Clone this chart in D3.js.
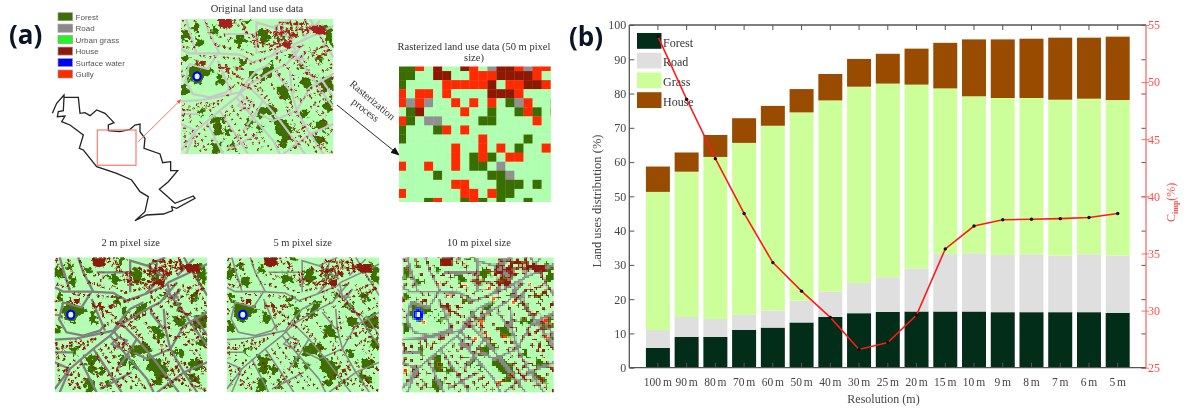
<!DOCTYPE html>
<html lang="en">
<head>
<meta charset="UTF-8">
<title>Land use rasterization</title>
<script src="https://d3js.org/d3.v7.min.js"></script>
<style>
    html, body { margin: 0; background: #fff; }
    svg { display: block; filter: blur(0.35px); }
    .serif { font-family: "Liberation Serif", serif; }
    .axis text { font-family: "Liberation Serif", serif; font-size: 12px; }
</style>
</head>
<body>
<svg width="1188" height="410"></svg>
<script>
// ---- chart (b) values
const resolutions = ["100 m","90 m","80 m","70 m","60 m","50 m","40 m","30 m","25 m","20 m","15 m","10 m","9 m","8 m","7 m","6 m","5 m"];
const forestShare = [5.8,9,9,11,11.7,13.2,14.8,15.9,16.3,16.4,16.4,16.4,16.2,16.2,16.2,16.2,16];
const roadShare = [5.2,5.8,5.2,4.4,5,6.4,7.4,8.8,10.1,12.6,16.8,17,16.7,16.9,16.5,16.9,16.7];
const grassShare = [40.3,42.4,47.3,50.2,53.9,54.9,55.8,57.3,56.5,53.6,48.3,45.8,45.8,45.6,45.5,45.4,45.4];
const houseShare = [7.4,5.6,6.4,7.2,5.8,6.8,7.7,8.1,8.7,10.5,13.3,16.6,17.1,17.3,18.1,17.8,18.5];
const cimp = [54,48.5,43.3,38.5,34.2,31.7,29.4,26.6,27.2,29.6,35.4,37.4,37.95,38,38.05,38.15,38.5];
const leftTicks = [0,10,20,30,40,50,60,70,80,90,100];
const rightTicks = [25,30,35,40,45,50,55];
const stackKeys = ["Forest","Road","Grass","House"];
const stackColors = ["#022d18","#dfdfdf","#ccff99","#994c00"];

// ---- panel (a) legend
const landNames = ["Forest","Road","Urban grass","House","Surface water","Gully"];
const landColors = ["#3d7004","#8a8a8a","#22f522","#8b1a0a","#0000ff","#ff2a00"];

// ---- 50 m raster, read cell by cell (G forest, R road, r gully, H house, . grass)
const rasterRows = [
    "GGr.H..Hr.RHHrRrr.",
    "GG..HH..rrrHHHHr..",
    "G....rrrrrH.rrHHr.",
    "r.rr.r....HHHr....",
    "rRrR..r.r.r.GRr..R",
    ".GH....r..G..GrG.r",
    "rG.RR....GG....r..",
    "G...Gr.r..........",
    "G........r....G...",
    "......r..r.r.G..r.",
    "......r.GrG.rr....",
    "r..r..r.GG.R......",
    "....G.....GGR.....",
    "......rr...GGG.G..",
    "r......rr.rGG.....",
    "...Gr..GrG.G..G..."
];
const rasterColors = { G: "#3a6e00", R: "#919191", r: "#ff2a00", H: "#8f1900", ".": "#b0ffb0" };

// ---- land use map, traced in a 15..470 x 15..420 map space
const mapForest = [
    [[15,45],[40,50],[45,65],[25,85],[15,75]], [[50,30],[70,35],[60,55],[48,45]], [[108,35],[125,45],[130,60],[110,65]],
    [[35,155],[60,150],[95,165],[115,175],[85,190],[70,210],[45,205],[35,175]], [[15,210],[40,215],[35,240],[18,245]],
    [[125,175],[145,195],[140,215],[115,205]], [[195,135],[215,135],[205,160],[190,150]], [[170,70],[195,60],[215,85],[190,95]],
    [[240,50],[270,45],[280,75],[255,100]], [[300,50],[330,60],[325,85],[305,80]], [[260,160],[295,145],[285,180],[255,205]],
    [[215,165],[240,175],[230,200],[215,190]], [[325,130],[355,115],[350,140]], [[360,150],[395,155],[385,175]],
    [[410,130],[440,120],[435,150]], [[445,30],[468,45],[468,100],[445,85]], [[300,220],[330,215],[345,260],[310,255]],
    [[370,190],[410,200],[400,225],[370,215]], [[420,200],[465,180],[468,225],[440,240]], [[370,290],[395,290],[395,315],[375,310]],
    [[240,285],[285,270],[310,290],[265,310],[240,310]], [[285,310],[330,320],[355,355],[325,375],[295,350]], [[240,330],[265,335],[250,360]],
    [[105,310],[140,305],[135,360],[115,365]], [[140,340],[165,345],[165,370],[145,360]], [[100,385],[135,380],[135,420],[110,418]],
    [[165,385],[180,385],[175,410],[160,405]], [[210,310],[235,315],[225,345],[210,340]], [[300,385],[345,360],[335,395],[310,400]],
    [[410,320],[450,320],[455,350],[420,350]], [[405,360],[440,370],[450,395],[415,385]], [[350,380],[375,390],[360,405]],
    [[200,15],[230,15],[210,35]], [[60,70],[85,80],[75,100],[55,95]], [[15,130],[35,120],[40,140],[20,145]],
    [[440,260],[468,250],[468,290],[445,290]], [[60,290],[85,285],[75,310]]
];
const mapRoads = [
    [[15,105],[40,118],[120,118],[190,122],[230,145],[285,125],[345,100],[355,90],[440,50],[470,35]],
    [[125,118],[95,165],[40,150],[28,200],[50,240],[100,250],[150,235],[165,215]],
    [[15,262],[80,258],[120,250],[190,235],[210,205],[240,170],[280,150]],
    [[15,410],[60,350],[130,290],[180,250],[215,215],[280,175],[330,150],[380,90]],
    [[210,210],[260,260],[310,320],[370,400],[385,420]],
    [[180,250],[230,310],[290,380],[310,420]],
    [[130,290],[170,350],[215,420]],
    [[90,320],[120,380],[140,420]],
    [[340,170],[345,230],[360,290],[400,360],[440,420]],
    [[345,110],[400,180],[440,240],[470,280]],
    [[370,140],[390,110],[375,125],[360,135],[385,135]],
    [[85,15],[100,60],[130,118]],
    [[30,15],[40,50],[60,115]],
    [[240,120],[240,60],[240,25],[290,40],[350,80]],
    [[290,40],[345,15]],
    [[125,140],[150,200],[165,235]],
    [[470,180],[400,220],[360,290],[290,320],[250,300]],
    [[15,330],[60,350]],
    [[60,350],[30,420]],
    [[190,235],[205,255],[185,275],[215,290],[230,265],[205,255]],
    [[285,125],[310,100],[320,30]],
    [[400,15],[420,50],[470,130]],
    [[260,260],[230,310],[200,350]],
    [[400,360],[470,330]],
    [[300,180],[340,230]],
    [[140,60],[190,60],[235,60]],
    [[15,300],[70,300]],
    [[150,410],[245,360]],
    [[320,420],[400,360]],
    [[430,190],[470,250]],
    [[360,135],[352,95]],
    [[380,70],[430,20]]
];
const mapBuildings = [
    [[125,15],[165,15],[168,40],[145,45],[130,40]],
    [[72,140],[90,140],[88,155],[72,155]],
    [[400,35],[445,35],[450,62],[410,60]],
    [[345,55],[365,60],[360,72],[345,70]],
    [[318,85],[345,80],[340,105],[322,100]]
];
const mapBlocks = [
    [[130,150],[130,170]], [[130,160],[165,165]], [[150,150],[150,175]], [[165,175],[195,195]], [[175,160],[200,165]],
    [[300,35],[300,75]], [[315,35],[315,70]], [[330,40],[345,75]], [[290,55],[340,55]], [[350,30],[395,30]],
    [[360,20],[360,70]], [[375,25],[380,65]], [[395,40],[430,60]], [[290,85],[340,100]], [[320,90],[340,70]],
    [[240,55],[245,100]], [[300,100],[335,85]], [[360,100],[380,95]], [[410,110],[445,95]], [[230,60],[235,100]],
    [[420,135],[460,105]], [[195,25],[205,45]], [[385,175],[420,190]], [[155,165],[160,195]], [[265,45],[285,60]],
    [[60,135],[65,155]], [[195,210],[225,225]], [[250,85],[290,95]],
    [[290,70],[345,40]], [[305,25],[345,30]], [[385,15],[395,60]], [[365,45],[400,50]], [[340,20],[350,60]], [[280,100],[320,75]]
];
const mapHouseRows = [
    [[20,20],[35,60]], [[55,20],[75,85]], [[90,25],[110,85]], [[175,25],[210,55]], [[165,70],[140,100]], [[40,70],[60,110]],
    [[20,95],[50,105]], [[115,90],[180,110]], [[205,40],[230,100]], [[185,100],[235,125]], [[130,70],[160,60]], [[70,125],[120,130]],
    [[15,150],[30,130]], [[18,170],[22,200]], [[140,130],[200,135]], [[220,150],[280,130]], [[250,115],[300,105]], [[300,120],[340,105]],
    [[20,270],[30,400]], [[40,275],[45,340]], [[60,272],[100,262]], [[20,290],[110,270]], [[40,360],[85,310]], [[60,370],[110,320]],
    [[55,400],[100,355]], [[70,410],[120,370]], [[150,290],[190,350]], [[165,275],[215,345]], [[140,310],[190,390]], [[125,330],[160,410]],
    [[185,360],[220,415]], [[200,350],[245,410]], [[230,360],[270,415]], [[255,370],[290,415]], [[195,260],[240,310]], [[210,250],[255,300]],
    [[190,290],[225,270]], [[340,265],[385,345]], [[330,290],[370,360]], [[375,340],[420,415]], [[400,330],[450,410]], [[420,290],[468,355]],
    [[395,240],[450,310]], [[420,230],[468,290]], [[350,180],[360,260]], [[300,170],[350,235]], [[285,210],[340,290]], [[250,220],[300,290]],
    [[235,215],[280,270]], [[440,110],[468,160]], [[400,110],[440,175]], [[375,200],[468,160]], [[390,230],[468,195]], [[370,260],[468,215]],
    [[400,280],[468,240]], [[430,385],[468,350]], [[300,400],[350,360]], [[340,410],[390,370]], [[180,170],[215,130]], [[215,210],[260,180]],
    [[240,210],[285,185]], [[360,165],[420,110]], [[350,150],[400,100]], [[300,130],[345,175]], [[100,290],[160,240]], [[85,285],[135,255]],
    [[160,225],[205,190]], [[60,400],[50,350]], [[90,410],[75,380]], [[170,395],[190,420]], [[340,330],[400,400]], [[420,395],[468,415]],
    [[430,70],[468,120]], [[340,120],[395,170]], [[160,20],[195,15]], [[345,380],[395,330]]
];
const mapGullies = [[200,95],[272,103],[285,135],[345,145],[395,90],[250,205],[230,255],[262,240],[150,125],[120,90],[320,250],[445,250],[440,200],[20,350],[300,385],[75,205]];
const waterRing = [63,187];

// ---- study area outline and the small panels' places
const outline = [[72,52],[115,52],[120,100],[135,98],[150,107],[170,90],[195,100],[222,128],[205,135],[205,152],[240,155],[270,148],[285,135],[300,132],[300,155],[315,175],[312,205],[360,222],[368,248],[392,245],[392,272],[413,272],[385,305],[358,328],[405,370],[460,348],[465,355],[410,385],[395,380],[398,392],[370,402],[320,405],[285,422],[315,395],[325,350],[300,335],[275,300],[230,280],[170,260],[130,210],[118,205],[130,165],[90,135],[65,125],[75,108],[52,110],[55,95],[70,92],[72,52],[72,45],[50,70],[37,100]];
const mapPanels = [
    { x: [181,333.5], y: [19,154], road: "#c8c8c8", roadW: 2.2, house: "#a3201a", houseW: 1.8, dash: "2 2 2 4 2 3 2 6 2 2", water: 2.2, forest: "#3d7004" },
    { x: [54.7,207.3], y: [257.3,392.3], road: "#808080", roadW: 2.3, house: "#8b1a0a", houseW: 2.1, dash: "3 2 2 3 2 2 3 5", water: 2.2, forest: "#3d7004" },
    { x: [226.7,379.3], y: [257.3,392.3], road: "#8a8a8a", roadW: 1.6, house: "#8b1a0a", houseW: 1.8, dash: "2 2 2 4 2 3 2 6 2 2", water: 2.2, forest: "#3d7004" },
    { x: [402.3,553.7], y: [257.3,392.3], road: "#8a8a8a", roadW: 3.2, house: "#8b1a0a", houseW: 3.4, dash: "4 3 3 5", water: 3.4, forest: "#3d7004", coarse: true }
];

const svg = d3.select("svg");
const defs = svg.append("defs");

// rough edges for the traced map shapes
const makeRough = (id, freq, scale) => {
    const f = defs.append("filter").attr("id", id).attr("x", "-10%").attr("y", "-10%").attr("width", "120%").attr("height", "120%");
    f.append("feTurbulence").attr("type", "fractalNoise").attr("baseFrequency", freq).attr("numOctaves", 2).attr("seed", 4).attr("result", "n");
    f.append("feDisplacementMap").attr("in", "SourceGraphic").attr("in2", "n").attr("scale", scale)
        .attr("xChannelSelector", "R").attr("yChannelSelector", "G");
};
makeRough("roughForest", 0.22, 11);
makeRough("roughHouse", 0.45, 4);

// panel letters
svg.selectAll(".letter").data([["(a)",9,44],["(b)",569,46]]).enter().append("text")
    .attr("class", "letter").attr("x", d => d[1]).attr("y", d => d[2])
    .attr("font-family", "Open Sans").attr("font-weight", 700).attr("font-size", 26).attr("fill", "#0a1424")
    .text(d => d[0]);

// ---- panel (a): legend
const landY = d3.scalePoint().domain(landNames).range([16.7, 74]);
const landLegend = svg.append("g");
landLegend.selectAll("rect").data(landNames).enter().append("rect")
    .attr("x", 58).attr("y", d => landY(d) - 4).attr("width", 14.5).attr("height", 8)
    .attr("fill", (d, i) => landColors[i]).attr("stroke", "#999").attr("stroke-width", 0.7);
landLegend.selectAll("text").data(landNames).enter().append("text")
    .attr("x", 75.6).attr("y", d => landY(d) + 3)
    .attr("font-family", "Liberation Sans").attr("font-size", 8).attr("fill", "#555")
    .text(d => d);

// ---- panel (a): outline, box and arrows
const outlineX = d3.scaleLinear().domain([0, 480]).range([40, 200]);
const outlineY = d3.scaleLinear().domain([0, 450]).range([80, 230]);
svg.append("path")
    .attr("d", d3.line().x(d => outlineX(d[0])).y(d => outlineY(d[1]))(outline))
    .attr("fill", "none").attr("stroke", "#222").attr("stroke-width", 1.3);
svg.append("rect").attr("x", 97.3).attr("y", 130).attr("width", 38.7).attr("height", 35.3)
    .attr("fill", "none").attr("stroke", "#ff7a70").attr("stroke-width", 1.2);

[["headRed","#ff4a40",5],["headBlack","#111",9]].forEach(([id, color, size]) => {
    defs.append("marker").attr("id", id).attr("viewBox", "0 0 10 10").attr("refX", 9).attr("refY", 5)
        .attr("markerUnits", "userSpaceOnUse").attr("markerWidth", size).attr("markerHeight", size).attr("orient", "auto")
        .append("path").attr("d", "M0,1L10,5L0,9Z").attr("fill", color);
});
svg.append("line").attr("x1", 138.3).attr("y1", 141.7).attr("x2", 181).attr("y2", 99.5)
    .attr("stroke", "#ff4a40").attr("stroke-width", 0.8).attr("marker-end", "url(#headRed)");
svg.append("line").attr("x1", 337).attr("y1", 105).attr("x2", 399).attr("y2", 155)
    .attr("stroke", "#111").attr("stroke-width", 0.9).attr("marker-end", "url(#headBlack)");

const titles = [
    ["Original land use data",257,12],
    ["Rasterized land use data (50 m pixel",474,50],
    ["size)",474,61],
    ["2 m pixel size",130.7,246],
    ["5 m pixel size",302.7,246],
    ["10 m pixel size",479,246]
];
svg.selectAll(".title").data(titles).enter().append("text")
    .attr("class", "title serif").attr("x", d => d[1]).attr("y", d => d[2]).attr("text-anchor", "middle")
    .attr("font-size", 10.5).attr("fill", "#333").text(d => d[0]);
svg.append("text").attr("class", "serif").attr("transform", "translate(349,85) rotate(40)")
    .attr("font-size", 10.5).attr("fill", "#333").text("Rasterization");
svg.append("text").attr("class", "serif").attr("transform", "translate(351,103) rotate(38)")
    .attr("font-size", 10.5).attr("fill", "#333").text("process");

// ---- panel (a): the land use maps
mapPanels.forEach((p, i) => {
    const mx = d3.scaleLinear().domain([15, 470]).range(p.x);
    const my = d3.scaleLinear().domain([15, 420]).range(p.y);
    defs.append("clipPath").attr("id", "map" + i).append("rect")
        .attr("x", p.x[0]).attr("y", p.y[0]).attr("width", p.x[1] - p.x[0]).attr("height", p.y[1] - p.y[0]);
    const g = svg.append("g").attr("clip-path", `url(#map${i})`).append("g");

    // 10 m panel gets blocky cells through a sample-and-dilate filter
    if (p.coarse) {
        const w = p.x[1] - p.x[0], h = p.y[1] - p.y[0];
        const f = defs.append("filter").attr("id", "pixelate").attr("filterUnits", "userSpaceOnUse")
            .attr("primitiveUnits", "userSpaceOnUse")
            .attr("x", p.x[0]).attr("y", p.y[0]).attr("width", w).attr("height", h)
            .attr("color-interpolation-filters", "sRGB");
        f.append("feFlood").attr("x", p.x[0] + 1).attr("y", p.y[0] + 1).attr("width", 1).attr("height", 1);
        f.append("feComposite").attr("x", p.x[0] + 1).attr("y", p.y[0] + 1).attr("width", 3).attr("height", 3);
        f.append("feTile").attr("result", "dots");
        f.append("feComposite").attr("in", "SourceGraphic").attr("in2", "dots").attr("operator", "in");
        f.append("feMorphology").attr("operator", "dilate").attr("radius", 1);
        g.attr("filter", "url(#pixelate)");
    }

    const line = d3.line().x(d => mx(d[0])).y(d => my(d[1]));

    g.append("rect").attr("x", p.x[0]).attr("y", p.y[0]).attr("width", p.x[1] - p.x[0]).attr("height", p.y[1] - p.y[0]).attr("fill", "#b4ffb4");
    g.append("g").attr("filter", "url(#roughForest)")
        .selectAll("path").data(mapForest).enter().append("path").attr("d", d => line(d) + "Z").attr("fill", p.forest);
    g.append("g").selectAll("path").data(mapRoads).enter().append("path").attr("d", line)
        .attr("fill", "none").attr("stroke", p.road).attr("stroke-width", p.roadW);
    const houses = g.append("g").attr("filter", "url(#roughHouse)");
    houses.selectAll(".row").data(mapHouseRows).enter().append("path").attr("class", "row").attr("d", line)
        .attr("fill", "none").attr("stroke", p.house).attr("stroke-width", p.houseW).attr("stroke-dasharray", p.dash);
    houses.selectAll(".block").data(mapBlocks).enter().append("path").attr("class", "block").attr("d", line)
        .attr("fill", "none").attr("stroke", p.house).attr("stroke-width", p.houseW).attr("stroke-dasharray", "5 1");
    houses.selectAll(".building").data(mapBuildings).enter().append("path").attr("class", "building")
        .attr("d", d => line(d) + "Z").attr("fill", p.house);
    if (p.coarse) {
        g.selectAll(".gully").data(mapGullies).enter().append("rect").attr("class", "gully")
            .attr("x", d => mx(d[0])).attr("y", d => my(d[1])).attr("width", 3).attr("height", 3).attr("fill", "#ff2a00");
    }
    g.append("ellipse").attr("cx", mx(waterRing[0])).attr("cy", my(waterRing[1])).attr("rx", 3.6).attr("ry", 4)
        .attr("fill", "#d8ffd8").attr("stroke", "#0000ff").attr("stroke-width", p.water);
});

// ---- panel (a): 50 m raster
const rasterX = d3.scaleBand().domain(d3.range(18)).range([397, 559.7]);
const rasterY = d3.scaleBand().domain(d3.range(16)).range([62, 207]);
defs.append("clipPath").attr("id", "rasterClip").append("rect").attr("x", 399).attr("y", 66.5).attr("width", 152).attr("height", 135.5);
const raster = svg.append("g").attr("clip-path", "url(#rasterClip)");
rasterRows.forEach((row, r) => {
    raster.selectAll(".r" + r).data(row.split("")).enter().append("rect")
        .attr("class", "r" + r)
        .attr("x", (d, c) => rasterX(c)).attr("y", rasterY(r))
        .attr("width", rasterX.bandwidth() + 0.3).attr("height", rasterY.bandwidth() + 0.3)
        .attr("fill", d => rasterColors[d]);
});

// ---- panel (b)
const x = d3.scaleBand().domain(resolutions).range([643.6, 1132]).paddingInner(0.165).paddingOuter(0.08);
const y = d3.scaleLinear().domain([0, 100]).range([367.7, 25]);
const yRight = d3.scaleLinear().domain([25, 55]).range([367.7, 25]);
const frameL = 629.3, frameR = 1146;

const table = resolutions.map((r, i) => ({ resolution: r, Forest: forestShare[i], Road: roadShare[i], Grass: grassShare[i], House: houseShare[i] }));
const stacked = d3.stack().keys(stackKeys)(table);
svg.selectAll(".layer").data(stacked).enter().append("g")
    .attr("class", "layer").attr("fill", (d, i) => stackColors[i])
    .selectAll("rect").data(d => d).enter().append("rect")
    .attr("x", d => x(d.data.resolution))
    .attr("y", d => y(d[1]))
    .attr("width", x.bandwidth())
    .attr("height", d => y(d[0]) - y(d[1]));

// legend sits inside the plot, the curve runs over it
const legendY = d3.scalePoint().domain(stackKeys).range([33, 92.2]);
const stackLegend = svg.append("g");
stackLegend.selectAll("rect").data(stackKeys).enter().append("rect")
    .attr("x", 637).attr("y", d => legendY(d)).attr("width", 24.5).attr("height", 15.8)
    .attr("fill", (d, i) => stackColors[i]);
stackLegend.selectAll("text").data(stackKeys).enter().append("text")
    .attr("class", "serif").attr("x", 663).attr("y", d => legendY(d) + 13.6)
    .attr("font-size", 12).attr("fill", "#333").text(d => d);

// axes
const axisGray = "#555", axisRed = "#ff6a6a";
const styleAxis = (g, color) => {
    g.select(".domain").remove();
    g.selectAll("line").attr("stroke", color);
    g.selectAll("text").attr("fill", color === axisGray ? "#444" : "#ff4d4d");
};
svg.append("g").attr("class", "axis").attr("transform", `translate(${frameL},0)`)
    .call(d3.axisLeft(y).tickValues(leftTicks).tickSizeInner(-5).tickSizeOuter(0).tickPadding(3))
    .call(g => styleAxis(g, axisGray));
svg.append("g").attr("class", "axis").attr("transform", `translate(${frameR},0)`)
    .call(d3.axisRight(y).tickValues(leftTicks).tickSizeInner(-4.5).tickSizeOuter(0).tickFormat(""))
    .call(g => styleAxis(g, axisGray));
svg.append("g").attr("class", "axis").attr("transform", "translate(0,367.7)")
    .call(d3.axisBottom(x).tickSizeInner(-5).tickSizeOuter(0).tickPadding(10))
    .call(g => styleAxis(g, axisGray))
    .call(g => g.selectAll("text").attr("font-size", null).style("font-size", "11.5px").style("word-spacing", "-1px"));
svg.append("g").attr("class", "axis").attr("transform", "translate(0,25)")
    .call(d3.axisTop(x).tickSizeInner(-5).tickSizeOuter(0).tickFormat(""))
    .call(g => styleAxis(g, axisGray));
svg.append("g").attr("class", "axis").attr("transform", `translate(${frameR},0)`)
    .call(d3.axisRight(yRight).tickValues(rightTicks).tickSizeInner(3).tickSizeOuter(0).tickPadding(-1))
    .call(g => styleAxis(g, axisRed))
    .call(g => g.selectAll("line").attr("x1", -4.5));
svg.append("line").attr("x1", frameL).attr("x2", frameR).attr("y1", 25).attr("y2", 25).attr("stroke", axisGray).attr("stroke-width", 1.3);
svg.append("line").attr("x1", frameL).attr("x2", frameR).attr("y1", 367.7).attr("y2", 367.7).attr("stroke", axisGray).attr("stroke-width", 1.3);
svg.append("line").attr("x1", frameL).attr("x2", frameL).attr("y1", 25).attr("y2", 367.7).attr("stroke", axisGray).attr("stroke-width", 1.3);
svg.append("line").attr("x1", frameR).attr("x2", frameR).attr("y1", 25).attr("y2", 367.7).attr("stroke", axisRed).attr("stroke-width", 1.3);

// C imp curve
const cimpLine = d3.line().x((d, i) => x(resolutions[i]) + x.bandwidth() / 2).y(d => yRight(d));
svg.append("path").attr("d", cimpLine(cimp)).attr("fill", "none").attr("stroke", "#ff1a1a").attr("stroke-width", 1.6);
svg.selectAll(".pt").data(cimp).enter().append("circle").attr("class", "pt")
    .attr("cx", (d, i) => x(resolutions[i]) + x.bandwidth() / 2).attr("cy", d => yRight(d)).attr("r", 1.7).attr("fill", "#111");

// axis titles
svg.append("text").attr("class", "serif").attr("transform", "translate(601,201) rotate(-90)").attr("text-anchor", "middle")
    .attr("font-size", 12.5).attr("fill", "#444").text("Land uses distribution (%)");
svg.append("text").attr("class", "serif").attr("x", 883.5).attr("y", 403).attr("text-anchor", "middle")
    .attr("font-size", 12).attr("fill", "#444").text("Resolution (m)");
const rightTitle = svg.append("text").attr("class", "serif").attr("transform", "translate(1175,222) rotate(-90)")
    .attr("font-size", 12).attr("fill", "#ff4d4d");
rightTitle.append("tspan").text("C");
rightTitle.append("tspan").attr("dy", 3).attr("font-size", 8).attr("font-weight", 700).text("imp");
rightTitle.append("tspan").attr("dy", -3).text("(%)");
</script>
</body>
</html>
